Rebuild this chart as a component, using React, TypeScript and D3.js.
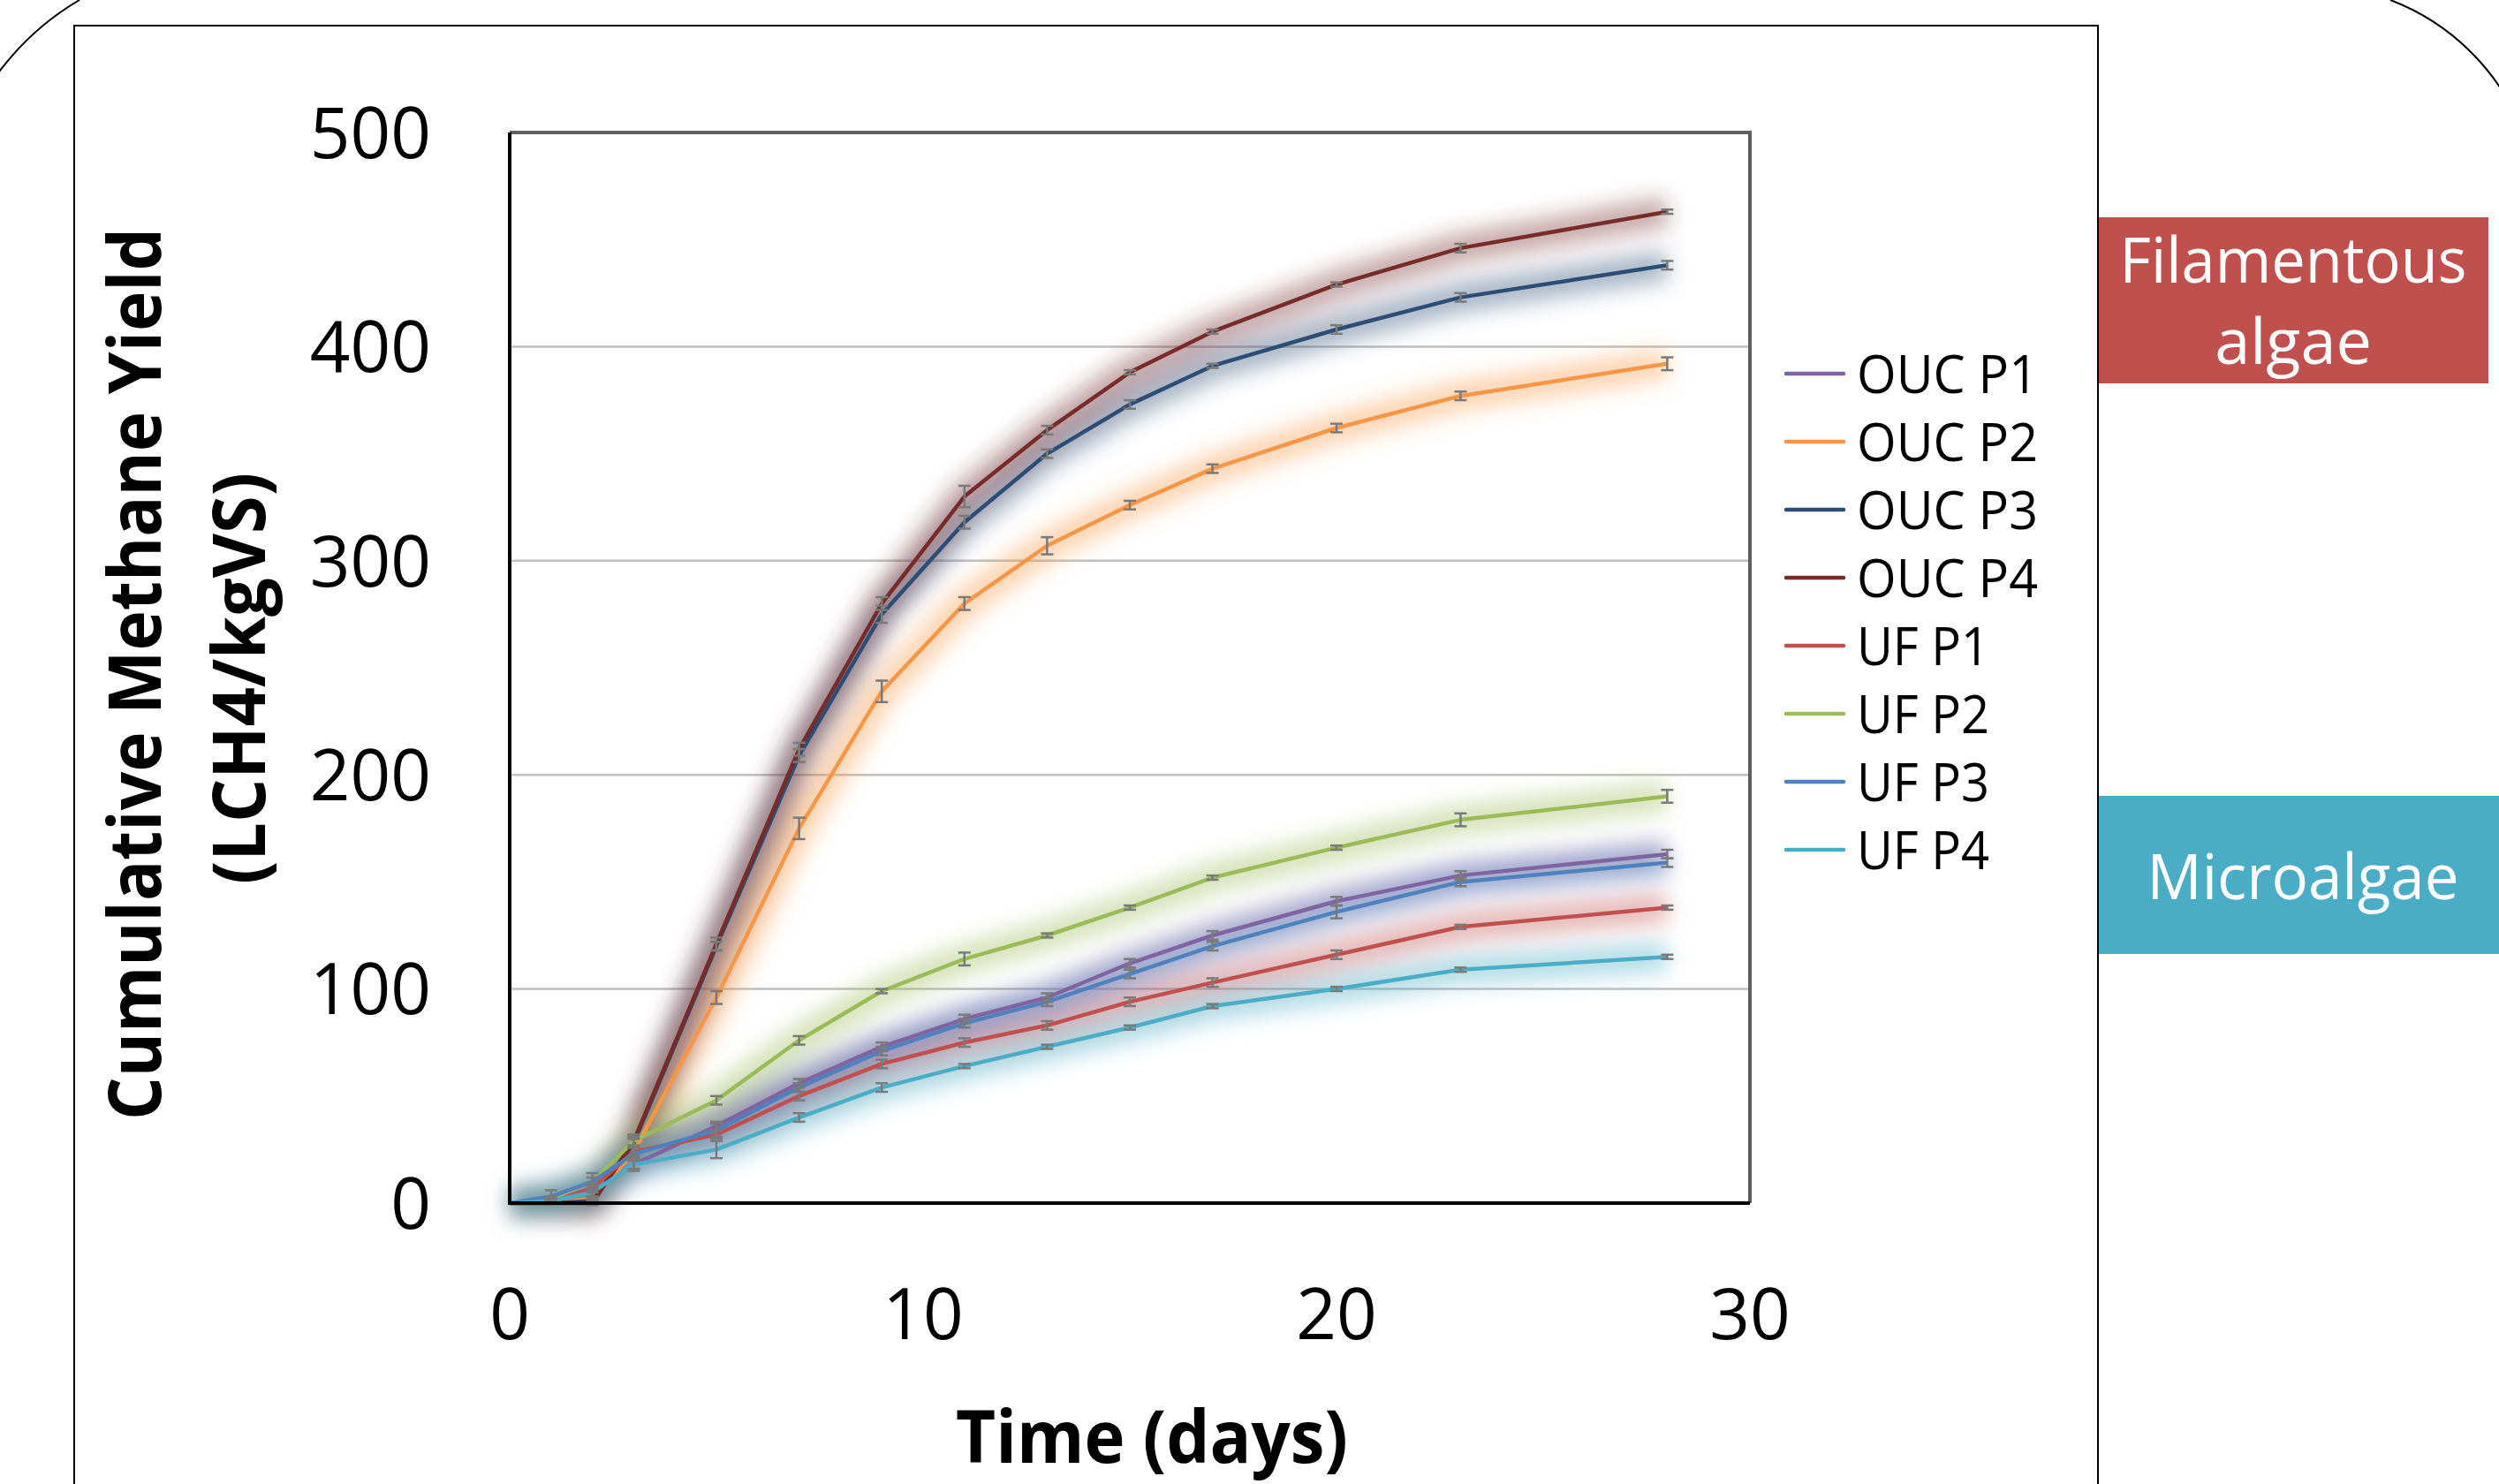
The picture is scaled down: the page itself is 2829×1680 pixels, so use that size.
import React, { useRef, useEffect } from 'react';
import * as d3 from 'd3';

// days of sampling
const days = [0, 1, 2, 3, 5, 7, 9, 11, 13, 15, 17, 20, 23, 28];

const seriesNames = ['OUC P1', 'OUC P2', 'OUC P3', 'OUC P4', 'UF P1', 'UF P2', 'UF P3', 'UF P4'];
const seriesColors = ['#8064A2', '#F79646', '#2C4D75', '#772C2A', '#C0504D', '#9BBB59', '#4F81BD', '#4BACC6'];

// cumulative methane yield (L CH4 / kg VS)
const oucP1 = [0, 1, 5, 18, 36, 56, 73, 86, 96, 112, 125, 141, 153, 163];
const oucP2 = [0, 0, 2, 24, 96, 175, 239, 280, 307, 326, 343, 362, 377, 392];
const oucP3 = [0, 0, 1, 28, 120, 209, 275, 318, 350, 373, 391, 408, 423, 438];
const oucP4 = [0, 0, 0, 29, 121, 212, 280, 330, 361, 388, 407, 429, 446, 463];
const ufP1 = [0, 1, 7, 24, 32, 50, 65, 75, 83, 94, 103, 116, 129, 138];
const ufP2 = [0, 2, 10, 29, 48, 76, 99, 114, 125, 138, 152, 166, 179, 190];
const ufP3 = [0, 3, 10, 23, 34, 54, 71, 84, 94, 107, 120, 136, 150, 159];
const ufP4 = [0, 1, 5, 18, 25, 40, 54, 64, 73, 82, 92, 100, 109, 115];

// standard deviations
const oucP1Err = [0, 1, 2, 3, 2, 2, 2, 2, 2, 2, 2, 2, 2, 2];
const oucP2Err = [0, 0, 1, 2, 3, 5, 5, 3, 4, 2, 2, 2, 2, 3];
const oucP3Err = [0, 0, 1, 2, 2, 3, 4, 3, 2, 2, 1, 2, 2, 2];
const oucP4Err = [0, 0, 1, 3, 3, 3, 3, 5, 2, 1, 1, 1, 2, 1];
const ufP1Err = [0, 1, 2, 2, 2, 2, 2, 2, 2, 2, 2, 2, 1, 1];
const ufP2Err = [0, 1, 2, 2, 2, 2, 1, 3, 1, 1, 1, 1, 3, 3];
const ufP3Err = [0, 3, 4, 3, 3, 2, 2, 2, 2, 2, 2, 3, 2, 2];
const ufP4Err = [0, 1, 2, 2, 4, 2, 2, 1, 1, 1, 1, 1, 1, 1];

const seriesValues = [oucP1, oucP2, oucP3, oucP4, ufP1, ufP2, ufP3, ufP4];
const seriesErrors = [oucP1Err, oucP2Err, oucP3Err, oucP4Err, ufP1Err, ufP2Err, ufP3Err, ufP4Err];

const yTicks = [0, 100, 200, 300, 400, 500];
const xTicks = [0, 10, 20, 30];

export default function App() {
    const ref = useRef<SVGSVGElement>(null);

    useEffect(() => {
        const svg = d3.select(ref.current);
        svg.selectAll('*').remove();

        const width = 2829;
        const height = 1680;
        const plotLeft = 577;
        const plotRight = 1981;
        const plotTop = 150;
        const plotBottom = 1362;
        const font = '"Open Sans", "DejaVu Sans", sans-serif';

        svg.attr('width', width).attr('height', height);
        svg.append('rect').attr('width', width).attr('height', height).attr('fill', 'white');

        // 1. Slide frame and corner arcs
        svg.append('path')
            .attr('d', 'M -40 150 A 310 310 0 0 1 90 0')
            .attr('fill', 'none').attr('stroke', 'black').attr('stroke-width', 2);
        svg.append('path')
            .attr('d', 'M 2706 0 A 260 260 0 0 1 2860 160')
            .attr('fill', 'none').attr('stroke', 'black').attr('stroke-width', 2);
        svg.append('path')
            .attr('d', `M 84 ${height + 5} V 29 H 2375 V ${height + 5}`)
            .attr('fill', 'none').attr('stroke', 'black').attr('stroke-width', 2);

        // 2. Scales
        const x = d3.scaleLinear().domain([0, 30]).range([plotLeft, plotRight]);
        const y = d3.scaleLinear().domain([0, 500]).range([plotBottom, plotTop]);

        // 3. Gridlines
        svg.append('g')
            .selectAll('line')
            .data(yTicks.filter(t => t > 0 && t < 500))
            .join('line')
            .attr('x1', plotLeft).attr('x2', plotRight)
            .attr('y1', d => y(d)).attr('y2', d => y(d))
            .attr('stroke', '#c0c0c0').attr('stroke-width', 2.5);

        // plot area border: top & right gray
        svg.append('path')
            .attr('d', `M ${plotLeft} ${plotTop} H ${plotRight} V ${plotBottom}`)
            .attr('fill', 'none').attr('stroke', '#5f5f5f').attr('stroke-width', 4);

        // 4. Glow filter
        const defs = svg.append('defs');
        defs.append('filter')
            .attr('id', 'glow')
            .attr('filterUnits', 'userSpaceOnUse')
            .attr('x', 0).attr('y', 0).attr('width', width).attr('height', height)
            .append('feGaussianBlur')
            .attr('stdDeviation', 12);

        const rows = seriesValues.map(vals => vals.map((v, i) => ({ day: days[i], value: v })));
        const line = d3.line<{ day: number; value: number }>()
            .x(d => x(d.day))
            .y(d => y(d.value));

        const glows = svg.append('g').attr('filter', 'url(#glow)');
        rows.forEach((r, i) => {
            glows.append('path')
                .attr('d', line(r))
                .attr('fill', 'none')
                .attr('stroke', seriesColors[i])
                .attr('stroke-opacity', 0.42)
                .attr('stroke-width', 34)
                .attr('stroke-linejoin', 'round');
        });

        // 5. Series lines
        rows.forEach((r, i) => {
            svg.append('path')
                .attr('d', line(r))
                .attr('fill', 'none')
                .attr('stroke', seriesColors[i])
                .attr('stroke-width', 4.5)
                .attr('stroke-linejoin', 'round');
        });

        // 6. Error bars
        const errG = svg.append('g').attr('stroke', '#7a7a7a').attr('stroke-width', 2.5);
        seriesValues.forEach((vals, s) => {
            vals.forEach((v, i) => {
                const e = seriesErrors[s][i];
                if (!e) return;
                const cx = x(days[i]);
                const y1 = y(v - e);
                const y2 = y(v + e);
                errG.append('line').attr('x1', cx).attr('x2', cx).attr('y1', y1).attr('y2', y2);
                errG.append('line').attr('x1', cx - 7).attr('x2', cx + 7).attr('y1', y1).attr('y2', y1);
                errG.append('line').attr('x1', cx - 7).attr('x2', cx + 7).attr('y1', y2).attr('y2', y2);
            });
        });

        // 7. Axes (left & bottom black)
        svg.append('path')
            .attr('d', `M ${plotLeft} ${plotTop} V ${plotBottom} H ${plotRight}`)
            .attr('fill', 'none').attr('stroke', 'black').attr('stroke-width', 4);

        svg.append('g')
            .selectAll('text')
            .data(yTicks)
            .join('text')
            .attr('x', 488)
            .attr('y', d => y(d))
            .attr('dy', '0.36em')
            .attr('text-anchor', 'end')
            .attr('font-family', font)
            .attr('font-size', 80)
            .text(d => d);

        svg.append('g')
            .selectAll('text')
            .data(xTicks)
            .join('text')
            .attr('x', d => x(d))
            .attr('y', 1516)
            .attr('text-anchor', 'middle')
            .attr('font-family', font)
            .attr('font-size', 80)
            .text(d => d);

        // 8. Axis titles
        svg.append('text')
            .attr('transform', 'translate(182, 763) rotate(-90)')
            .attr('text-anchor', 'middle')
            .attr('font-family', font).attr('font-weight', 700).attr('font-size', 83)
            .attr('textLength', 1010).attr('lengthAdjust', 'spacingAndGlyphs')
            .text('Cumulative Methane Yield');
        svg.append('text')
            .attr('transform', 'translate(300, 768) rotate(-90)')
            .attr('text-anchor', 'middle')
            .attr('font-family', font).attr('font-weight', 700).attr('font-size', 83)
            .attr('textLength', 466).attr('lengthAdjust', 'spacingAndGlyphs')
            .text('(LCH4/kgVS)');
        svg.append('text')
            .attr('x', 1304).attr('y', 1656)
            .attr('text-anchor', 'middle')
            .attr('font-family', font).attr('font-weight', 700).attr('font-size', 83)
            .attr('textLength', 444).attr('lengthAdjust', 'spacingAndGlyphs')
            .text('Time (days)');

        // 9. Legend
        const legend = svg.append('g')
            .selectAll('g')
            .data(seriesNames)
            .join('g')
            .attr('transform', (d, i) => `translate(2022, ${423 + i * 77})`);
        legend.append('line')
            .attr('x1', 0).attr('x2', 65)
            .attr('stroke', (d, i) => seriesColors[i])
            .attr('stroke-width', 4.5)
            .attr('stroke-linecap', 'round');
        legend.append('text')
            .attr('x', 80)
            .attr('dy', '0.36em')
            .attr('font-family', font)
            .attr('font-size', 60)
            .attr('textLength', d => (d.startsWith('OUC') ? 205 : 150))
            .attr('lengthAdjust', 'spacingAndGlyphs')
            .text(d => d);

        // 10. Group labels
        svg.append('rect')
            .attr('x', 2376).attr('y', 246).attr('width', 441).attr('height', 188)
            .attr('fill', '#C0504D');
        svg.append('text')
            .attr('x', 2596).attr('y', 320)
            .attr('text-anchor', 'middle')
            .attr('font-family', font).attr('font-size', 72).attr('fill', 'white')
            .attr('textLength', 393).attr('lengthAdjust', 'spacingAndGlyphs')
            .text('Filamentous');
        svg.append('text')
            .attr('x', 2596).attr('y', 412)
            .attr('text-anchor', 'middle')
            .attr('font-family', font).attr('font-size', 72).attr('fill', 'white')
            .text('algae');

        svg.append('rect')
            .attr('x', 2376).attr('y', 901).attr('width', 460).attr('height', 179)
            .attr('fill', '#4BACC6');
        svg.append('text')
            .attr('x', 2607).attr('y', 1018)
            .attr('text-anchor', 'middle')
            .attr('font-family', font).attr('font-size', 72).attr('fill', 'white')
            .attr('textLength', 353).attr('lengthAdjust', 'spacingAndGlyphs')
            .text('Microalgae');
    }, []);

    return <svg ref={ref} style={{ position: 'absolute', left: 0, top: 0, display: 'block' }} />;
}
